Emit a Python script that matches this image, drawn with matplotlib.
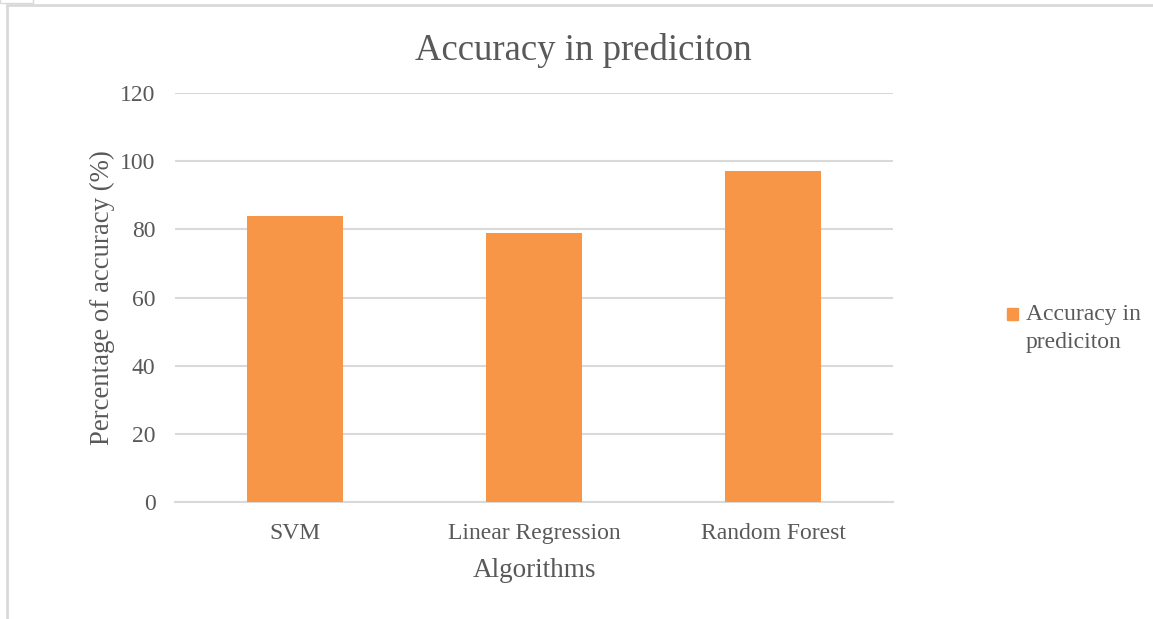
import matplotlib.pyplot as plt
import numpy as np
from matplotlib.patches import Rectangle

plt.rcParams['font.family'] = ['Liberation Serif', 'DejaVu Serif']

# data
algorithms = ['SVM', 'Linear Regression', 'Random Forest']
accuracy = [84, 79, 97]
series_name = 'Accuracy in\nprediciton'
yticks = [0, 20, 40, 60, 80, 100, 120]

text_col = '#595959'
grid_col = '#D9D9D9'
bar_col = '#F79646'

W, H = 1153, 619
fig = plt.figure(figsize=(W / 100, H / 100), dpi=100)
# chart-area border like the spreadsheet frame
fig.patches.append(Rectangle((7 / W, -0.1), 1.2, (H - 5) / H + 0.1,
                             transform=fig.transFigure, fill=False,
                             edgecolor='#D9D9D9', linewidth=2))
fig.patches.append(Rectangle((0, (H - 3) / H), 33 / W, 0.1,
                             transform=fig.transFigure, fill=False,
                             edgecolor='#D9D9D9', linewidth=1))

ax = fig.add_axes([175 / W, (H - 502) / H, (893 - 175) / W, (502 - 93) / H])
x = np.arange(len(algorithms))
bars = ax.bar(x, accuracy, width=0.4, color=bar_col, label=series_name, zorder=3)

ax.set_xlim(-0.5, len(algorithms) - 0.5)
ax.set_ylim(0, 120)
ax.set_yticks(yticks)
ax.set_xticks(x)
ax.set_xticklabels(algorithms)
ax.grid(axis='y', color=grid_col, linewidth=1.5, zorder=0)
for s in ['top', 'right', 'left']:
    ax.spines[s].set_visible(False)
ax.spines['bottom'].set_color(grid_col)
ax.spines['bottom'].set_linewidth(1.5)
ax.tick_params(axis='both', length=0, labelsize=17, labelcolor=text_col)
ax.tick_params(axis='y', pad=14)
ax.tick_params(axis='x', pad=15)

fig.text(583 / W, 1 - 51 / H, 'Accuracy in prediciton', fontsize=26.5,
         color=text_col, ha='center', va='center')
ax.set_xlabel('Algorithms', fontsize=19.5, color=text_col, labelpad=10)
ax.set_ylabel('Percentage of accuracy (%)', fontsize=19.3, color=text_col, labelpad=4)

# legend: square marker next to the first line of the wrapped series name
fig.patches.append(Rectangle((1007 / W, 1 - 320 / H), 11 / W, 12 / H,
                             transform=fig.transFigure, color=bars[0].get_facecolor()))
fig.text(1026 / W, 1 - 304 / H, series_name, fontsize=17, color=text_col,
         ha='left', va='top', linespacing=1.45)

plt.savefig('out.png', dpi=100)
